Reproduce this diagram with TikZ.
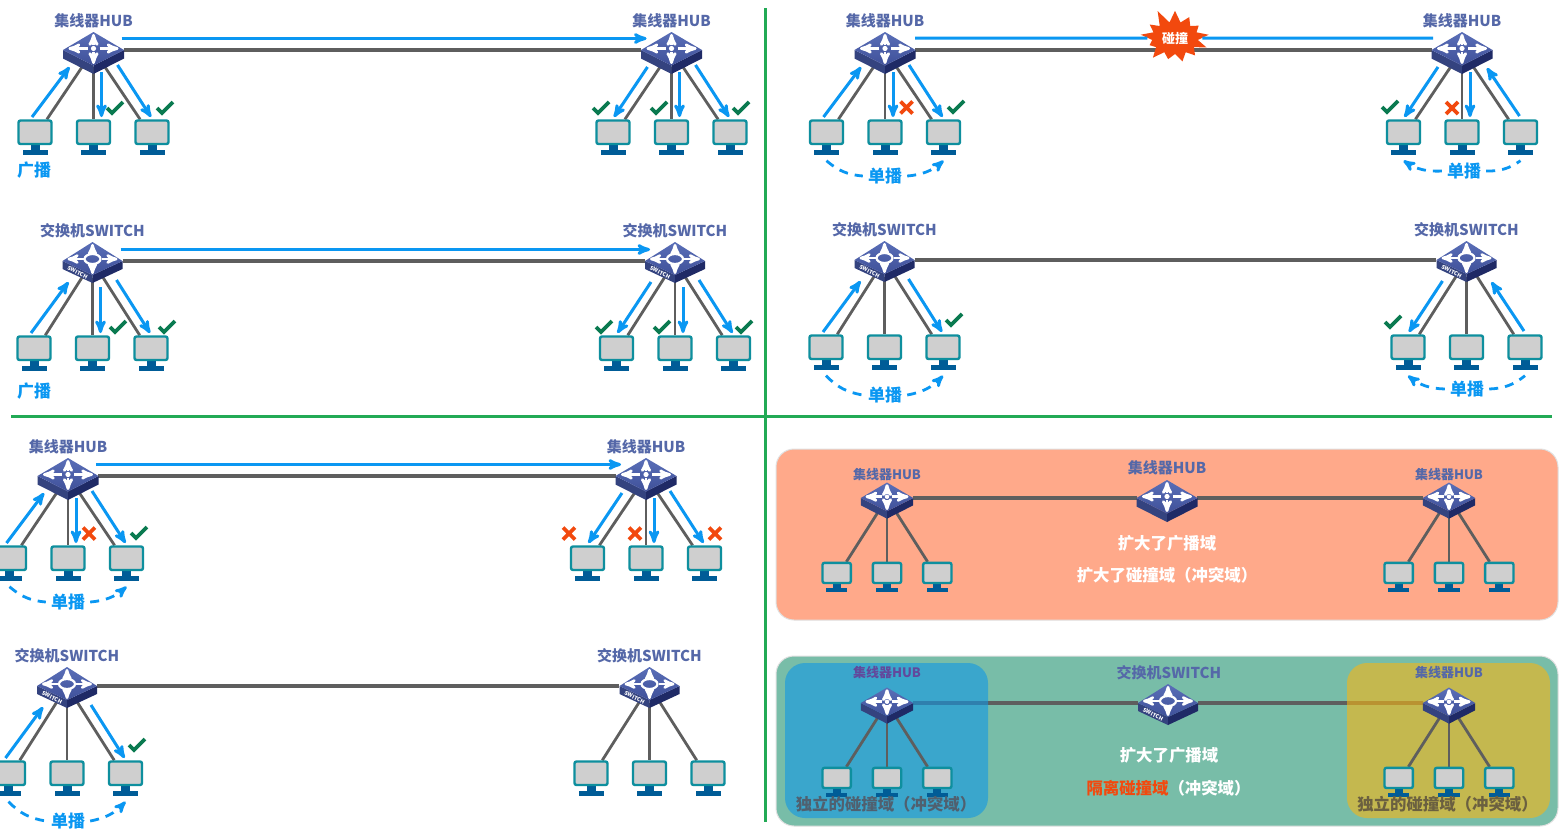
\documentclass[tikz,border=0pt]{standalone}
\usepackage{fontspec}
\setmainfont{Noto Sans CJK SC}
\usepackage{tikz}
\usetikzlibrary{arrows,positioning,shapes.geometric,shapes.symbols}
\definecolor{wiregray}{HTML}{5E5E5E}
\definecolor{flowblue}{HTML}{0A97F2}
\definecolor{labelblue}{HTML}{5568A8}
\definecolor{okgreen}{HTML}{0A7A50}
\definecolor{nored}{HTML}{F2490E}
\definecolor{dividegreen}{HTML}{22AA55}
\definecolor{screenteal}{HTML}{0E8F9E}
\definecolor{standblue}{HTML}{005C97}
\definecolor{hubtop}{HTML}{5A6FB8}
\definecolor{hubmid}{HTML}{3F5099}
\definecolor{hubleft}{HTML}{34437F}
\definecolor{hubright}{HTML}{1F2A66}
\definecolor{orangepanel}{HTML}{FFA98A}
\definecolor{tealpanel}{HTML}{78BDA8}
\definecolor{tintblue}{HTML}{1197E4}
\definecolor{tintyellow}{HTML}{F7B614}
\definecolor{boxgrayblue}{HTML}{50606F}
\definecolor{boxgraybrown}{HTML}{6B6040}
\pgfdeclarelayer{panel}
\pgfdeclarelayer{wire}
\pgfdeclarelayer{tint}
\pgfdeclarelayer{spoke}
\pgfsetlayers{panel,wire,tint,spoke,main}
\tikzset{
    %Define standard arrow tip
    >=stealth',
    %Define style for the invisible device boxes
    devbox/.style={
           diamond,
           minimum width=60pt,
           minimum height=34pt,
           inner sep=0pt,
           transform shape},
    pcbox/.style={
           rectangle,
           minimum width=35pt,
           minimum height=35pt,
           inner sep=0pt,
           transform shape},
    biglabel/.style={
           text=labelblue,
           font=\fontsize{15}{15}\selectfont\bfseries},
    smalllabel/.style={
           text=labelblue,
           font=\fontsize{13}{13}\selectfont\bfseries},
    tintlabel/.style={
           text=labelblue!70!violet,
           font=\fontsize{13}{13}\selectfont\bfseries},
    castlabel/.style={
           text=flowblue,
           inner sep=5pt,
           font=\fontsize{17}{17}\selectfont\bfseries},
    whitetext/.style={
           text=white,
           font=\fontsize{16.4}{16.4}\selectfont\bfseries},
    boxtext/.style={
           font=\fontsize{16.4}{16.4}\selectfont\bfseries},
    burst/.style={
           starburst,
           starburst points=13,
           starburst point height=15pt,
           random starburst=11,
           fill=nored,
           text=white,
           inner sep=1pt,
           minimum width=76pt,
           minimum height=62pt,
           font=\fontsize{13}{13}\selectfont\bfseries},
    % Define line styles
    wireline/.style={draw=wiregray, line width=2.8pt},
    linkline/.style={draw=wiregray, line width=3.2pt},
    flow/.style={->, draw=flowblue, line width=3pt},
    flatflow/.style={draw=flowblue, line width=3pt},
    castline/.style={draw=flowblue, line width=2.8pt, dash pattern=on 9pt off 7pt},
    divider/.style={draw=dividegreen, line width=3pt},
    % Define pictures of the devices
    hubicon/.pic={
        \fill[fill=hubleft] (-30.5,0) -- (0,15.5) -- (0,24) -- (-30.5,8.5) -- cycle;
        \fill[fill=hubright] (30.5,0) -- (0,15.5) -- (0,24) -- (30.5,8.5) -- cycle;
        \shade[top color=hubtop, bottom color=hubmid]
            (0,-18) -- (30.5,0) -- (0,15.5) -- (-30.5,0) -- cycle;
        \foreach \tipx/\tipy/\startx/\starty in {25/-1.5/6/-1.5,-25/-1.5/-6/-1.5,0/-16/0/-5,0/14/0/2}
            \draw[->, white, line width=2.8pt] (\startx,\starty) -- (\tipx,\tipy);
        \fill[white] (0,-1.5) circle (2.6pt);
    },
    switchicon/.pic={
        \fill[fill=hubleft] (-30,0) -- (0,14) -- (0,22) -- (-30,8) -- cycle;
        \fill[fill=hubright] (30,0) -- (0,14) -- (0,22) -- (30,8) -- cycle;
        \shade[top color=hubtop, bottom color=hubmid]
            (0,-19) -- (30,0) -- (0,14) -- (-30,0) -- cycle;
        \foreach \tipx/\tipy/\startx/\starty in {25/-2/9/-2,-25/-2/-9/-2,0/-17/0/-7,0/13/0/3}
            \draw[->, white, line width=2.6pt] (\startx,\starty) -- (\tipx,\tipy);
        \draw[white, line width=2.2pt] (0,-2) ellipse (8pt and 5pt);
        \node[white, rotate=-27, transform shape, inner sep=0pt, font=\fontsize{5.5}{5.5}\selectfont\bfseries] at (-15,11.5) {SWITCH};
    },
    pcicon/.pic={
        \fill[standblue] (-4.5,8) rectangle (4.5,13);
        \fill[standblue] (-12.5,12.5) rectangle (12.5,17.5);
        \draw[draw=screenteal, fill=black!19, line width=2.4pt, rounded corners=2pt] (-16.5,-16.5) rectangle (16.5,7);
    },
    okmark/.pic={
        \draw[okgreen, line width=3.8pt] (-8,0) -- (-3,5) -- (8,-6);
    },
    nomark/.pic={
        \draw[nored, line width=3.8pt] (-6,-6) -- (6,6) (-6,6) -- (6,-6);
    }
}
% name, x, y, icon, label style, label, label rise, scale, drop to the pcs
\newcommand{\netside}[9]{
  \node[devbox, scale=#8] (#1h) at (#2,#3) {};
  \pic[scale=#8] at (#2,#3) {#4};
  \node[#5] (#1t) at (#2,#3-#7) {#6};
  \foreach \k/\s in {1/-1,2/0,3/1} {
    \node[pcbox, scale=#8] (#1p\k) at (#2+\s*58.5*#8,#3+#9) {};
    \pic[scale=#8] at (#2+\s*58.5*#8,#3+#9) {pcicon};
    \begin{pgfonlayer}{spoke}
      \draw[wireline] (#1h) -- (#1p\k);
    \end{pgfonlayer}
  }
}
\newcommand{\hubnet}[3]{\netside{#1}{#2}{#3}{hubicon}{biglabel}{集线器HUB}{29.5}{1}{87}}
\newcommand{\switchnet}[3]{\netside{#1}{#2}{#3}{switchicon}{biglabel}{交换机SWITCH}{30}{1}{92}}
\newcommand{\wirelink}[2]{
  \begin{pgfonlayer}{wire}
    \draw[linkline] (#1h) -- (#2h);
  \end{pgfonlayer}
}
\newcommand{\longflow}[2]{\draw[flow] ([shift={(28,-11.5)}]#1h.center) -- ([shift={(-25,-11.5)}]#2h.center);}
% flows between a device and a pc, \hy is the start height at the device
\def\hy{17}
\newcommand{\flowul}[2]{\draw[flow] ([shift={(-3,-20)}]#2.center) -- ([shift={(-24,\hy)}]#1.center);}
\newcommand{\flowur}[2]{\draw[flow] ([shift={(-1,-21)}]#2.center) -- ([shift={(25,\hy+1)}]#1.center);}
\newcommand{\flowdl}[2]{\draw[flow] ([shift={(-24,\hy)}]#1.center) -- ([shift={(1,-20)}]#2.center);}
\newcommand{\flowdm}[2]{\draw[flow] ([shift={(8,\hy+5)}]#1.center) -- ([shift={(8,-20)}]#2.center);}
\newcommand{\flowdr}[2]{\draw[flow] ([shift={(24,\hy-2)}]#1.center) -- ([shift={(-1,-20)}]#2.center);}
% dashed arcs under the pcs
\newcommand{\castright}[3]{
  \draw[castline] ([yshift=-6pt]#2.south) to[bend right=18] (#1.west);
  \draw[castline, ->] (#1.east) to[bend right=18] ([yshift=-6pt]#3.south);
}
\newcommand{\castleft}[3]{
  \draw[castline, ->] (#1.west) to[bend left=18] ([yshift=-6pt]#2.south);
  \draw[castline] (#1.east) to[bend right=18] ([yshift=-6pt]#3.south);
}

\begin{document}
\begin{tikzpicture}[x=1pt,y=-1pt]
\useasboundingbox (0,0) rectangle (1563,831);
\begin{pgfonlayer}{panel}
\fill[white] (0,0) rectangle (1563,831);
\end{pgfonlayer}
 %dividers
\coordinate (vtop) at (765,8);
\coordinate (vbot) at (765,822);
\coordinate (hleft) at (11,416);
\coordinate (hright) at (1552,416);
\draw[divider] (vtop) -- (vbot);
\draw[divider] (hleft) -- (hright);
 %top left: hub, broadcast
\hubnet{al}{93.5}{50}
\hubnet{ar}{671.5}{50}
\wirelink{al}{ar}
\longflow{al}{ar}
\flowul{alh}{alp1}
\flowdm{alh}{alp2}
\flowdr{alh}{alp3}
\flowdl{arh}{arp1}
\flowdm{arh}{arp2}
\flowdr{arh}{arp3}
\node[castlabel] (atext) at (34,170) {广播};
\foreach \px in {115,165,601,659,741}
  \pic at (\px,108) {okmark};
 %top right: hub, collision
\hubnet{bl}{885}{50}
\hubnet{br}{1462}{50}
\wirelink{bl}{br}
\node[burst] (bhit) at (1175,38) {碰撞};
\draw[flatflow] ([shift={(30,-12)}]blh.center) -- (bhit);
\draw[flatflow] (bhit) -- ([shift={(-29,-12)}]brh.center);
\flowul{blh}{blp1}
\flowdm{blh}{blp2}
\flowdr{blh}{blp3}
\flowdl{brh}{brp1}
\flowdm{brh}{brp2}
\flowur{brh}{brp3}
\node[castlabel] (btextl) at (885,176) {单播};
\node[castlabel] (btextr) at (1464,171) {单播};
\castright{btextl}{blp1}{blp3}
\castleft{btextr}{brp1}{brp3}
\pic at (906.5,107.5) {nomark};
\pic at (956,107) {okmark};
\pic at (1390,107) {okmark};
\pic at (1452,108) {nomark};
 %second row left: switch, broadcast
\def\hy{21}
\switchnet{cl}{92.5}{261}
\switchnet{cr}{675}{261}
\wirelink{cl}{cr}
\longflow{cl}{cr}
\flowul{clh}{clp1}
\flowdm{clh}{clp2}
\flowdr{clh}{clp3}
\flowdl{crh}{crp1}
\flowdm{crh}{crp2}
\flowdr{crh}{crp3}
\node[castlabel] (ctext) at (34,391) {广播};
\foreach \px in {118,167,604,662,744}
  \pic at (\px,327) {okmark};
 %second row right: switch, unicast
\switchnet{dl}{884.5}{260}
\switchnet{dr}{1466.5}{260}
\wirelink{dl}{dr}
\flowul{dlh}{dlp1}
\flowdr{dlh}{dlp3}
\flowdl{drh}{drp1}
\flowur{drh}{drp3}
\node[castlabel] (dtextl) at (885,395) {单播};
\node[castlabel] (dtextr) at (1467,389) {单播};
\castright{dtextl}{dlp1}{dlp3}
\castleft{dtextr}{drp1}{drp3}
\pic at (954,320) {okmark};
\pic at (1393,322) {okmark};
 %third row left: hub, unicast
\def\hy{17}
\hubnet{el}{68}{476}
\hubnet{er}{646}{476}
\wirelink{el}{er}
\longflow{el}{er}
\flowul{elh}{elp1}
\flowdm{elh}{elp2}
\flowdr{elh}{elp3}
\flowdl{erh}{erp1}
\flowdm{erh}{erp2}
\flowdr{erh}{erp3}
\node[castlabel] (etext) at (68,602) {单播};
\castright{etext}{elp1}{elp3}
\pic at (89,533.5) {nomark};
\pic at (139,533) {okmark};
\foreach \px in {569,635,715}
  \pic at (\px,533.5) {nomark};
 %last row left: switch, unicast
\def\hy{21}
\switchnet{fl}{67}{686}
\switchnet{fr}{649.5}{686}
\wirelink{fl}{fr}
\flowul{flh}{flp1}
\flowdr{flh}{flp3}
\node[castlabel] (ftext) at (68,821) {单播};
\castright{ftext}{flp1}{flp3}
\pic at (137,745) {okmark};
 %orange panel
\begin{pgfonlayer}{panel}
\draw[draw=black!12, fill=orangepanel, line width=1pt, rounded corners=18pt] (776,449) rectangle (1558,620);
\end{pgfonlayer}
\netside{gl}{887}{498}{hubicon}{smalllabel}{集线器HUB}{23}{.86}{79}
\netside{gr}{1449}{498}{hubicon}{smalllabel}{集线器HUB}{23}{.86}{79}
\node[devbox] (gmh) at (1167,498) {};
\pic at (1167,498) {hubicon};
\node[biglabel] (gmt) at (1167,468) {集线器HUB};
\wirelink{gl}{gm}
\wirelink{gm}{gr}
\node[whitetext] (gtexta) at (1167,543) {扩大了广播域};
\node[whitetext] (gtextb) at (1167,575) {扩大了碰撞域（冲突域）};
 %green panel
\begin{pgfonlayer}{panel}
\draw[draw=black!12, fill=tealpanel, line width=1pt, rounded corners=18pt] (776,656) rectangle (1558,826);
\end{pgfonlayer}
\begin{pgfonlayer}{tint}
\fill[fill=tintblue, fill opacity=.6, rounded corners=20pt] (785,663) rectangle (988,818);
\fill[fill=tintyellow, fill opacity=.6, rounded corners=20pt] (1347,663) rectangle (1550,818);
\end{pgfonlayer}
\netside{hl}{887}{703}{hubicon}{tintlabel}{集线器HUB}{30}{.86}{79}
\netside{hr}{1449}{703}{hubicon}{smalllabel}{集线器HUB}{30}{.86}{79}
\node[devbox] (hmh) at (1168,703) {};
\pic at (1168,703) {switchicon};
\node[biglabel] (hmt) at (1169,673) {交换机SWITCH};
\wirelink{hl}{hm}
\wirelink{hm}{hr}
\node[whitetext] (htexta) at (1169,755) {扩大了广播域};
\node[whitetext] (htextb) at (1168.5,788) {\textcolor{nored}{隔离碰撞域}（冲突域）};
\node[boxtext, text=boxgrayblue] (htextl) at (886,804) {独立的碰撞域（冲突域）};
\node[boxtext, text=boxgraybrown] (htextr) at (1447.5,804) {独立的碰撞域（冲突域）};
\end{tikzpicture}
\end{document}
